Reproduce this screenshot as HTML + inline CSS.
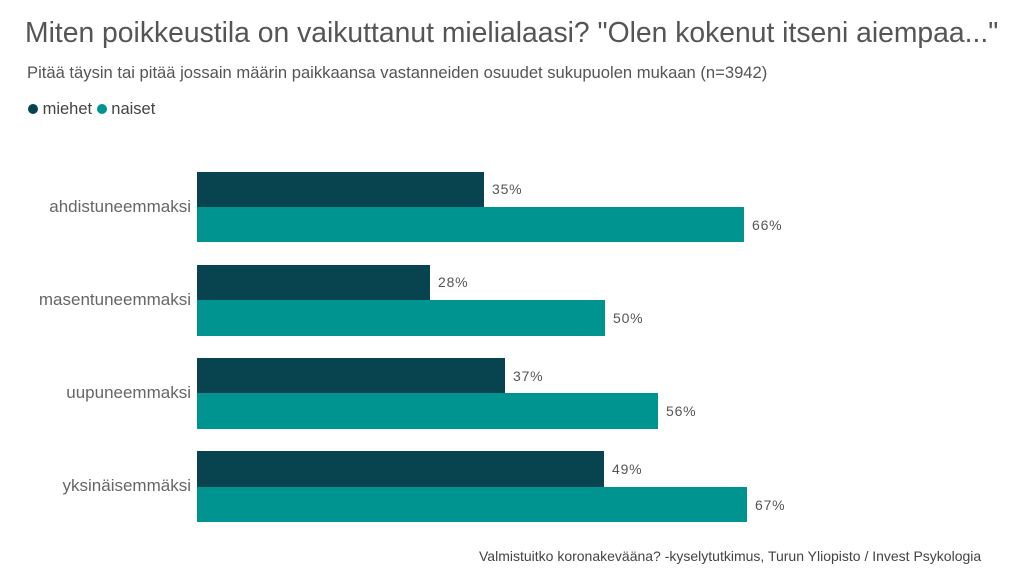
<!DOCTYPE html>
<html><head><meta charset="utf-8"><style>
body{margin:0;width:1024px;height:579px;background:#fff;font-family:"Liberation Sans",sans-serif;position:relative;overflow:hidden}
.t{position:absolute;white-space:nowrap}
.bar{position:absolute;left:197px}
.d{background:#08444f}.n{background:#009491}
.v{position:absolute;font-size:14px;color:#555;letter-spacing:0.8px}
.c{position:absolute;right:833px;font-size:17px;color:#666;text-align:right}
</style></head><body>
<div class="t" style="left:25px;top:16px;font-size:28.3px;color:#555">Miten poikkeustila on vaikuttanut mielialaasi? "Olen kokenut itseni aiempaa..."</div>
<div class="t" style="left:27px;top:63px;font-size:16.6px;color:#555">Pitää täysin tai pitää jossain määrin paikkaansa vastanneiden osuudet sukupuolen mukaan (n=3942)</div>
<div class="t" style="left:28px;top:100px;font-size:16.5px;color:#444"><span style="display:inline-block;width:10px;height:10px;border-radius:50%;background:#08444f"></span> miehet <span style="display:inline-block;width:10px;height:10px;border-radius:50%;background:#009491"></span> naiset</div>

<div class="c" style="top:197px">ahdistuneemmaksi</div>
<div class="bar d" style="top:172px;height:35px;width:287px"></div>
<div class="bar n" style="top:207px;height:35px;width:547px"></div>
<div class="v" style="left:492px;top:181px">35%</div>
<div class="v" style="left:752px;top:217px">66%</div>

<div class="c" style="top:290px">masentuneemmaksi</div>
<div class="bar d" style="top:265px;height:35px;width:233px"></div>
<div class="bar n" style="top:300px;height:36px;width:408px"></div>
<div class="v" style="left:438px;top:274px">28%</div>
<div class="v" style="left:613px;top:310px">50%</div>

<div class="c" style="top:383px">uupuneemmaksi</div>
<div class="bar d" style="top:358px;height:35px;width:308px"></div>
<div class="bar n" style="top:393px;height:36px;width:461px"></div>
<div class="v" style="left:513px;top:368px">37%</div>
<div class="v" style="left:666px;top:403px">56%</div>

<div class="c" style="top:476px">yksinäisemmäksi</div>
<div class="bar d" style="top:451px;height:36px;width:407px"></div>
<div class="bar n" style="top:487px;height:35px;width:550px"></div>
<div class="v" style="left:612px;top:461px">49%</div>
<div class="v" style="left:755px;top:497px">67%</div>

<div class="t" style="left:479px;top:548px;font-size:14px;color:#444">Valmistuitko koronakevääna? -kyselytutkimus, Turun Yliopisto / Invest Psykologia</div>
</body></html>
